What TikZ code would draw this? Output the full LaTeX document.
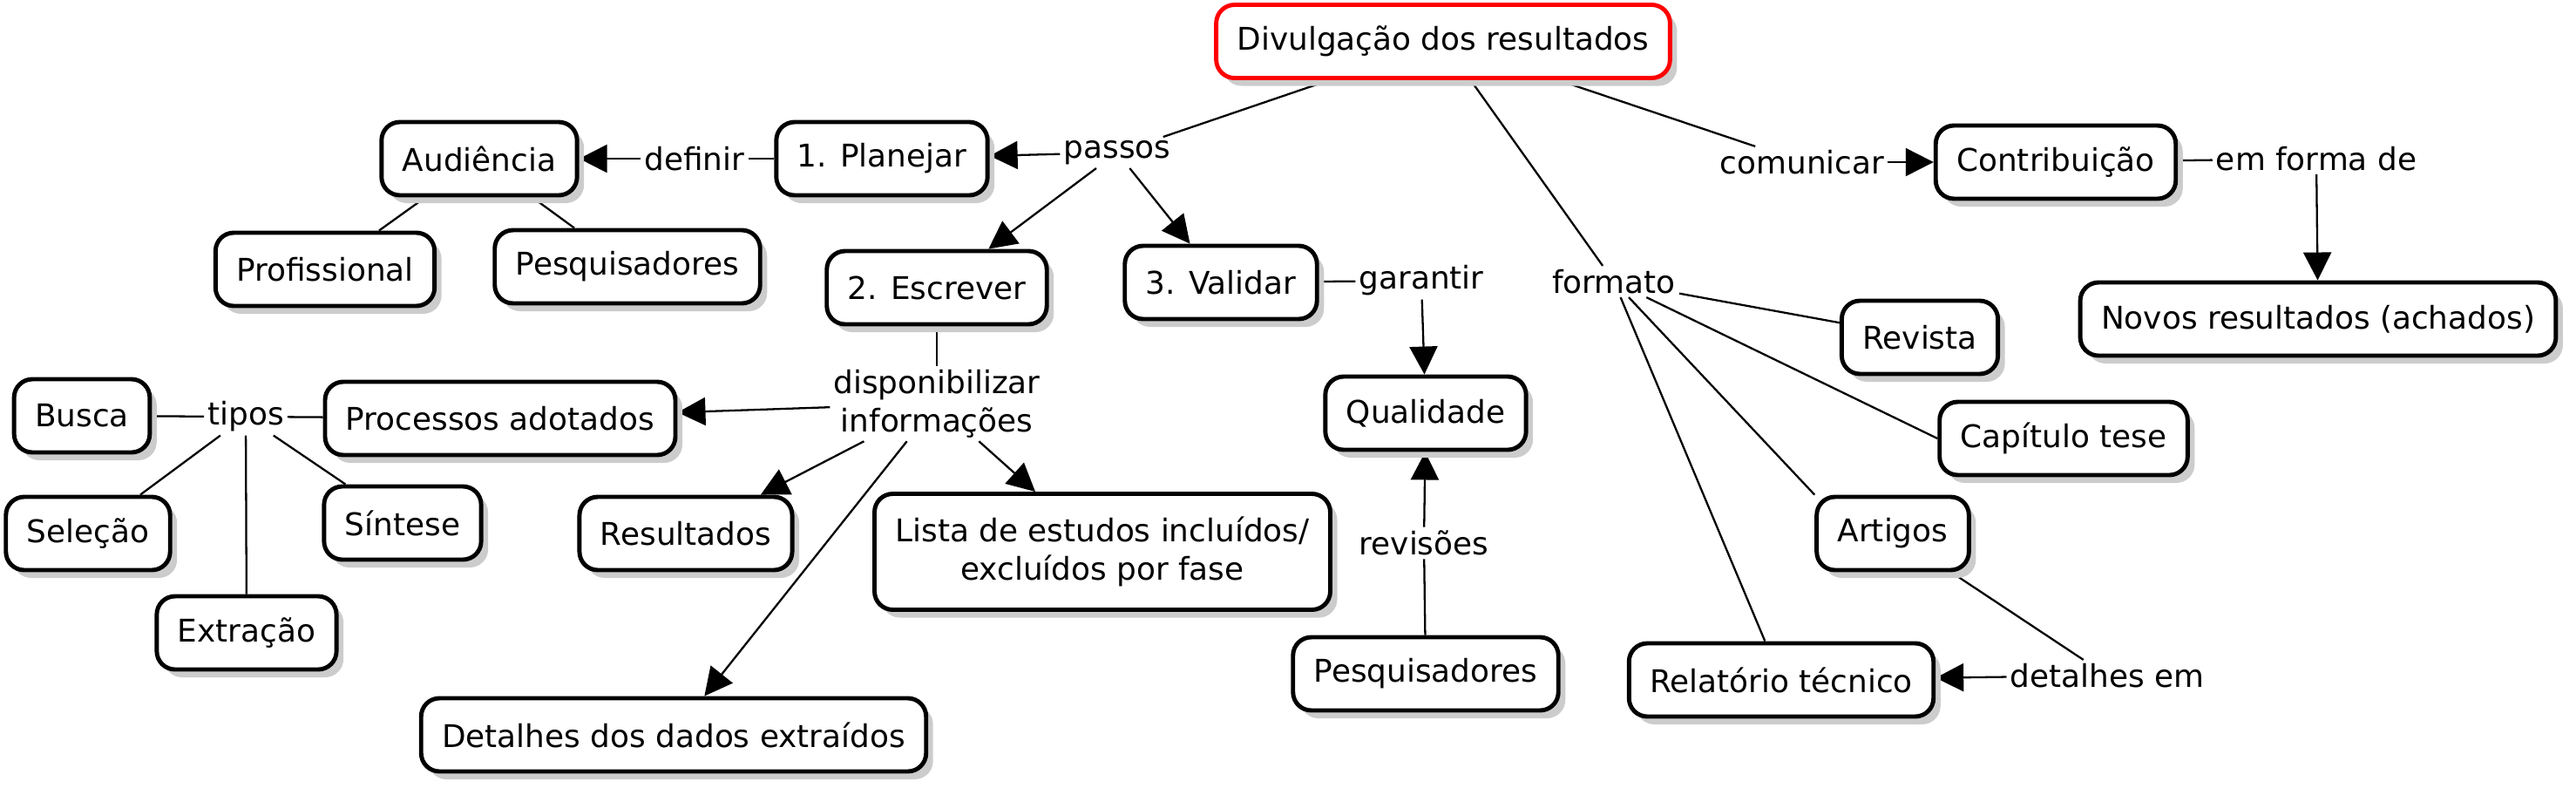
\documentclass[tikz,border=0pt]{standalone}
\usepackage{fontspec}
\setmainfont{DejaVu Sans}
\usetikzlibrary{arrows.meta, shadows, backgrounds}

\begin{document}
\begin{tikzpicture}[font=\fontsize{10.2}{12.5}\selectfont,
        concept/.style={draw, line width=1.4pt, rounded corners=2.1mm, fill=white,
            minimum height=8.4mm, inner xsep=2.4mm, align=center,
            drop shadow={shadow xshift=0.8mm, shadow yshift=-0.9mm, fill=black!20, opacity=1}},
        mainconcept/.style={concept, draw=red},
        linkword/.style={inner sep=1pt, align=center},
        link/.style={line width=0.65pt},
        arrowlink/.style={link, -{Triangle[length=3.2mm, width=3.2mm]}}]
            \useasboundingbox (0, 0) rectangle (29.56, -9.03);
            %% Concepts
            \node[mainconcept] (res) at (16.56, -0.475) {Divulgação dos resultados};
            \node[concept] (planejar) at (10.12, -1.82) {1. Planejar};
            \node[concept] (audiencia) at (5.50, -1.82) {Audiência};
            \node[concept] (profissional) at (3.73, -3.09) {Profissional};
            \node[concept] (pesqtop) at (7.20, -3.06) {Pesquisadores};
            \node[concept] (escrever) at (10.75, -3.30) {2. Escrever};
            \node[concept] (validar) at (14.01, -3.24) {3. Validar};
            \node[concept] (contrib) at (23.59, -1.86) {Contribuição};
            \node[concept] (novos) at (26.60, -3.66) {Novos resultados (achados)};
            \node[concept] (revista) at (22.03, -3.87) {Revista};
            \node[concept] (capitulo) at (23.68, -5.03) {Capítulo tese};
            \node[concept] (artigos) at (21.72, -6.12) {Artigos};
            \node[concept] (relatorio) at (20.44, -7.80) {Relatório técnico};
            \node[concept] (qualidade) at (16.36, -4.74) {Qualidade};
            \node[concept] (pesqbottom) at (16.36, -7.73) {Pesquisadores};
            \node[concept, minimum height=13.3mm] (lista) at (12.65, -6.33)
                {Lista de estudos incluídos/\\excluídos por fase};
            \node[concept] (resultados) at (7.87, -6.12) {Resultados};
            \node[concept] (detalhes) at (7.73, -8.43) {Detalhes dos dados extraídos};
            \node[concept] (processos) at (5.74, -4.80) {Processos adotados};
            \node[concept] (busca) at (0.94, -4.77) {Busca};
            \node[concept] (selecao) at (1.01, -6.12) {Seleção};
            \node[concept] (sintese) at (4.62, -6.00) {Síntese};
            \node[concept] (extracao) at (2.83, -7.26) {Extração};
            %% Linking words
            \node[linkword] at (12.82, -1.75) (passos) {passos};
            \node[linkword] at (7.97, -1.82) (definir) {definir};
            \node[linkword] at (20.68, -1.86) (comunicar) {comunicar};
            \node[linkword] at (26.58, -1.82) (formade) {em forma de};
            \node[linkword] at (18.52, -3.23) (formato) {formato};
            \node[linkword] at (16.31, -3.22) (garantir) {garantir};
            \node[linkword] at (10.75, -4.63) (disp) {disponibilizar\\informações};
            \node[linkword] at (2.82, -4.78) (tipos) {tipos};
            \node[linkword] at (16.34, -6.23) (revisoes) {revisões};
            \node[linkword] at (24.18, -7.75) (detalhesem) {detalhes em};
            %% Connections
            \begin{scope}[on background layer]
                \draw[link] (res) -- (passos);
                \draw[arrowlink] (passos) -- (planejar);
                \draw[arrowlink] (passos) -- (escrever);
                \draw[arrowlink] (passos) -- (validar);
                \draw[link] (planejar) -- (definir);
                \draw[arrowlink] (definir) -- (audiencia);
                \draw[link] (audiencia) -- (profissional);
                \draw[link] (audiencia) -- (pesqtop);
                \draw[link] (escrever) -- (disp);
                \draw[arrowlink] (disp) -- (processos);
                \draw[arrowlink] (disp) -- (resultados);
                \draw[arrowlink] (disp) -- (lista);
                \draw[arrowlink] (disp) -- (detalhes);
                \draw[link] (processos) -- (tipos);
                \draw[link] (tipos) -- (busca);
                \draw[link] (tipos) -- (selecao);
                \draw[link] (tipos) -- (extracao);
                \draw[link] (tipos) -- (sintese);
                \draw[link] (validar) -- (garantir);
                \draw[arrowlink] (garantir) -- (qualidade);
                \draw[link] (pesqbottom) -- (revisoes);
                \draw[arrowlink] (revisoes) -- (qualidade);
                \draw[link] (res) -- (formato);
                \draw[link] (formato) -- (revista);
                \draw[link] (formato) -- (capitulo.west);
                \draw[link] (formato) -- (artigos.north west);
                \draw[link] (formato) -- (relatorio);
                \draw[link] (artigos) -- (detalhesem);
                \draw[arrowlink] (detalhesem) -- (relatorio);
                \draw[link] (res) -- (comunicar);
                \draw[arrowlink] (comunicar) -- (contrib);
                \draw[link] (contrib) -- (formade);
                \draw[arrowlink] (formade) -- (novos);
            \end{scope}

    \end{tikzpicture}
\end{document}
